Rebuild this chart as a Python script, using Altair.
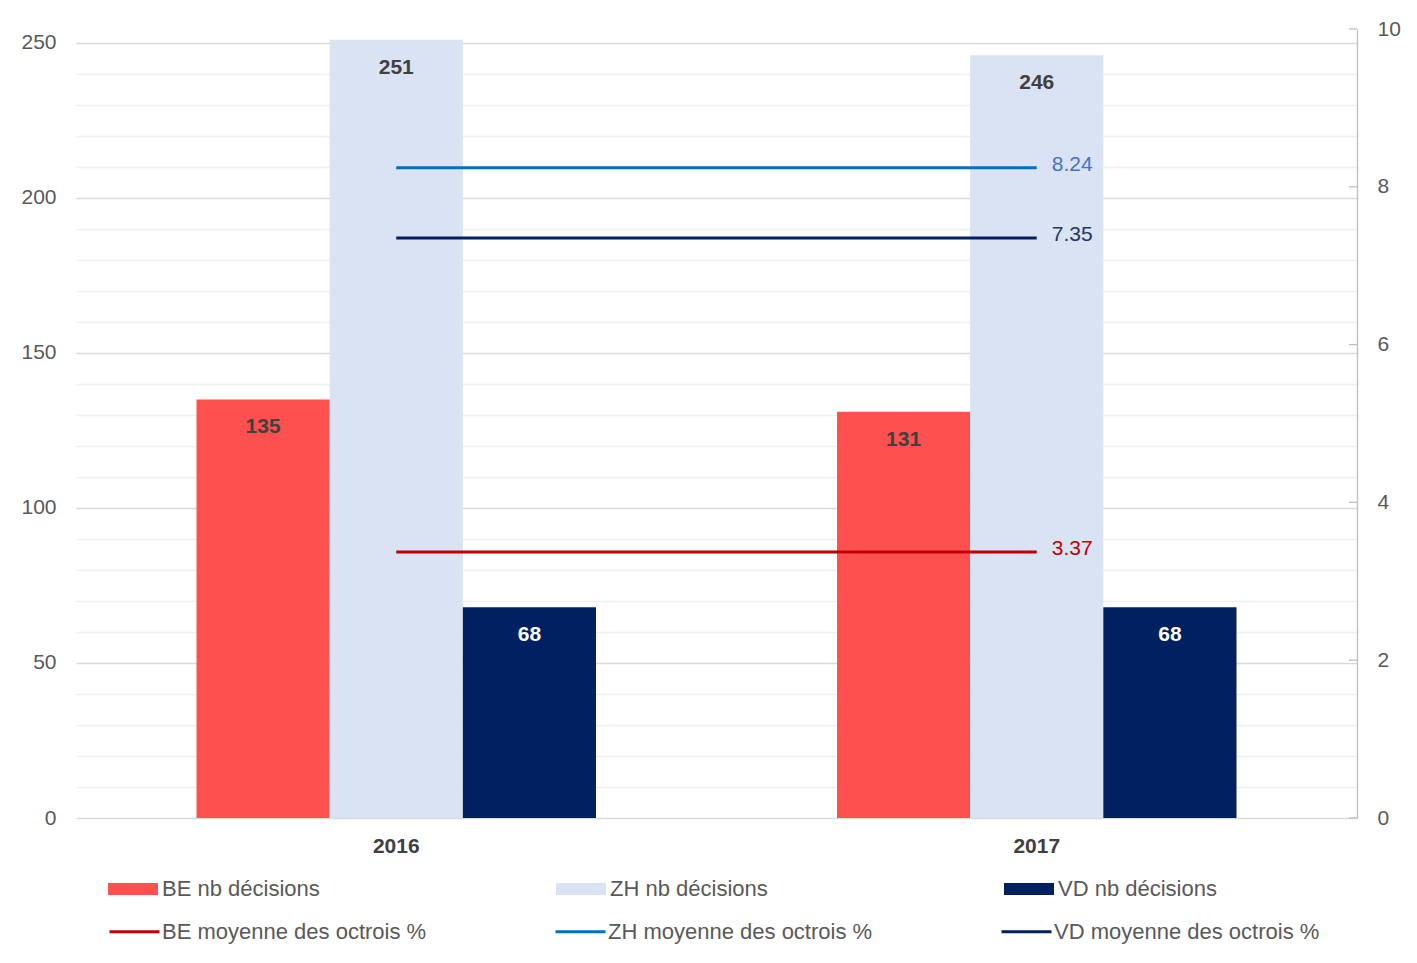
import altair as alt
import pandas as pd

years = ["2016", "2017"]
bar_series = ["BE nb décisions", "ZH nb décisions", "VD nb décisions"]
be_nb = [135, 131]
zh_nb = [251, 246]
vd_nb = [68, 68]
bar_colors = ["#FF5050", "#DAE3F3", "#002060"]

line_series = ["BE moyenne des octrois %", "ZH moyenne des octrois %", "VD moyenne des octrois %"]
be_pct = [3.37, 3.37]
zh_pct = [8.24, 8.24]
vd_pct = [7.35, 7.35]
line_colors = ["#C00000", "#0070C0", "#002060"]
line_label_colors = ["#C00000", "#4472C4", "#1F3864"]

left_ticks = list(range(0, 251, 10))
right_ticks = [0, 2, 4, 6, 8, 10]

rows = []
for s, vals in zip(bar_series, [be_nb, zh_nb, vd_nb]):
    for y, v in zip(years, vals):
        rows.append({"year": y, "series": s, "value": v})
bar_df = pd.DataFrame(rows)

lrows = []
for s, vals, lc in zip(line_series, [be_pct, zh_pct, vd_pct], line_label_colors):
    for y, v in zip(years, vals):
        lrows.append({"year": y, "series": s, "pct": v, "lc": lc, "label": f"{v:.2f}"})
line_df = pd.DataFrame(lrows)
tick_df = pd.DataFrame({"pct": right_ticks})

W, H = 1281, 789
FONT = "Liberation Sans"

x_axis = alt.Axis(labelFontSize=21, labelFontWeight="bold", labelColor="#404040",
                  labelPadding=17, domain=False, ticks=False, labelAngle=0, grid=False)
x_scale = alt.Scale(paddingInner=0, paddingOuter=0)


def x_enc():
    return alt.X("year:N", sort=years, title=None, scale=x_scale, axis=x_axis)


xoff = alt.XOffset("series:N", sort=bar_series,
                   scale=alt.Scale(paddingOuter=0.905, paddingInner=0))

left_axis = alt.Axis(values=left_ticks, labelExpr="datum.value % 50 === 0 ? datum.label : ''",
                     labelOverlap=False,
                     labelFontSize=21, labelColor="#595959", labelPadding=20,
                     domain=False, ticks=False, grid=True,
                     gridColor={"condition": {"test": "datum.value % 50 === 0", "value": "#D9D9D9"},
                                "value": "#F0F0F0"},
                     gridWidth=1.3)
left_scale = alt.Scale(domain=[0, 254.5], nice=False, zero=True)


def y_left():
    return alt.Y("value:Q", title=None, scale=left_scale, axis=left_axis)


right_axis = alt.Axis(orient="right", values=right_ticks, format="d", labelFontSize=21,
                      labelColor="#595959", labelPadding=20, tickSize=0, labelOverlap=False,
                      domain=True, domainColor="#BFBFBF", domainWidth=1.3, grid=False)
right_scale = alt.Scale(domain=[0, 10], nice=False)


def y_right():
    return alt.Y("pct:Q", title=None, scale=right_scale, axis=right_axis)


bars = alt.Chart(bar_df).mark_bar().encode(
    x=x_enc(), xOffset=xoff, y=y_left(),
    color=alt.Color("series:N", sort=bar_series,
                    scale=alt.Scale(domain=bar_series, range=bar_colors),
                    legend=alt.Legend(title=None, orient="none", legendX=32, legendY=835,
                                      direction="horizontal", columns=3, gridAlign="all",
                                      columnPadding=235, padding=0,
                                      symbolType="M-1,-0.24H1V0.24H-1Z", symbolSize=2500,
                                      symbolStrokeWidth=0, symbolOpacity=1,
                                      labelFontSize=22, labelColor="#595959", labelOffset=4,
                                      labelLimit=500, labelFont=FONT)),
)

bar_text = alt.Chart(bar_df).mark_text(fontSize=21, fontWeight="bold", baseline="middle",
                                       dy=28, font=FONT).encode(
    x=x_enc(), xOffset=xoff,
    y=y_left(),
    text=alt.Text("value:Q"),
    color=alt.condition(alt.datum.series == "VD nb décisions", alt.value("white"), alt.value("#404040")),
)

left_layer = alt.layer(bars, bar_text)

lines = alt.Chart(line_df).mark_line(strokeWidth=3).encode(
    x=x_enc(),
    y=y_right(),
    stroke=alt.Stroke("series:N", sort=line_series,
                      scale=alt.Scale(domain=line_series, range=line_colors),
                      legend=alt.Legend(title=None, orient="none", legendX=32, legendY=876,
                                        direction="horizontal", columns=3, gridAlign="all",
                                        columnPadding=121, padding=0,
                                        symbolType="stroke", symbolSize=2500, symbolStrokeWidth=3,
                                        labelFontSize=22, labelColor="#595959", labelOffset=1,
                                        labelLimit=500, labelFont=FONT)),
)

line_text = alt.Chart(line_df).transform_filter(alt.datum.year == "2017").mark_text(
    align="left", baseline="middle", dx=15, dy=-3, fontSize=21, font=FONT).encode(
    x=x_enc(),
    y=y_right(),
    text="label:N",
    fill=alt.Fill("lc:N", scale=None),
)

ticks = alt.Chart(tick_df).mark_rule(color="#BFBFBF", strokeWidth=1.3).encode(
    y=y_right(),
    x=alt.value(W - 8), x2=alt.value(W),
)

right_layer = alt.layer(lines, line_text, ticks)

chart = alt.layer(left_layer, right_layer).resolve_scale(
    y="independent", color="independent"
).properties(
    width=W, height=H,
    autosize=alt.AutoSizeParams(type="none"),
    padding={"left": 68, "top": 21, "right": 50, "bottom": 135},
).configure(font=FONT).configure_view(stroke=None)

chart.save("out.html", embed_options={"renderer": "svg", "actions": False})
